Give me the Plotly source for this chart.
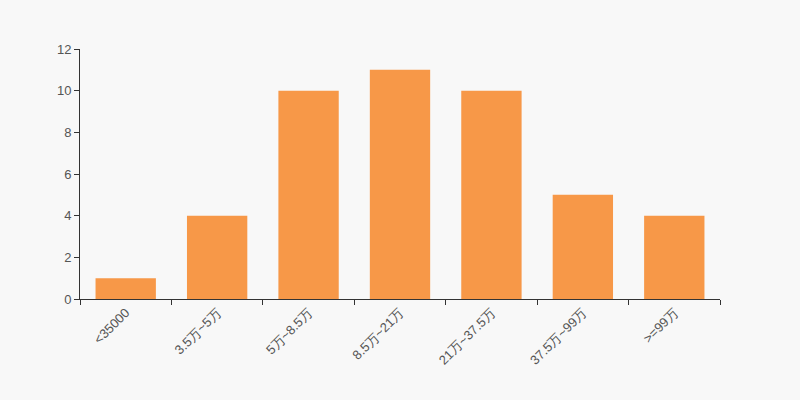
import plotly.graph_objects as go

categories = ["<35000", "3.5万~5万", "5万~8.5万", "8.5万~21万", "21万~37.5万", "37.5万~99万", ">=99万"]
values = [1, 4, 10, 11, 10, 5, 4]

fig = go.Figure(go.Bar(x=categories, y=values, marker=dict(color="#f79848", line=dict(width=0)),
                       hoverinfo="x+y"))
fig.update_layout(
    width=800, height=400,
    margin=dict(l=80, r=80, t=49, b=101),
    paper_bgcolor="#f8f8f8", plot_bgcolor="#f8f8f8",
    bargap=0.34,
    showlegend=False,
    font=dict(family="Arial, Liberation Sans, sans-serif", size=13, color="#555555"),
)
fig.update_xaxes(type="category", tickson="boundaries", ticks="outside", ticklen=5,
                 tickcolor="#333", showline=True, linecolor="#333", linewidth=1,
                 tickangle=-45, showgrid=False, tickfont=dict(color="#555", size=13))
fig.update_yaxes(range=[0, 12], dtick=2, ticks="outside", ticklen=5, tickcolor="#333",
                 showline=True, linecolor="#333", linewidth=1, showgrid=False, zeroline=False,
                 tickfont=dict(color="#555", size=13))
fig.write_html("out.html", config={"displayModeBar": False},
               post_script="document.body.style.margin='0';document.body.style.background='#f8f8f8';")
